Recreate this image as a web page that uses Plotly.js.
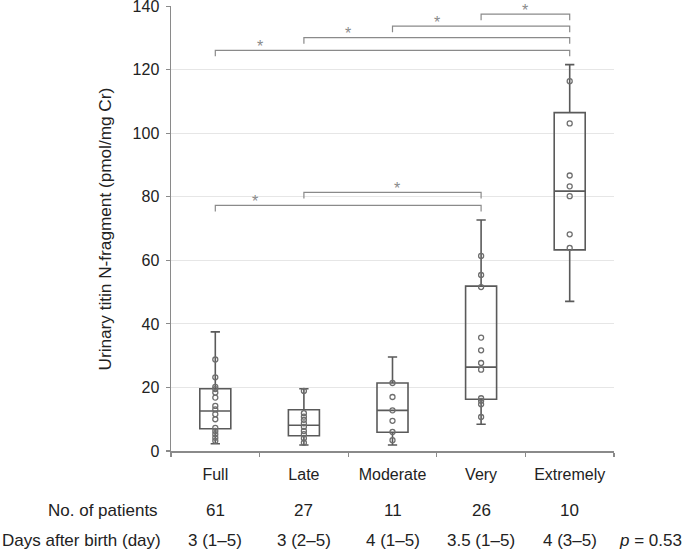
<!DOCTYPE html>
<html>
<head>
<meta charset="utf-8">
<script src="https://cdn.plot.ly/plotly-3.0.1.min.js"></script>
<style>html,body{margin:0;padding:0;background:#fff;}#chart{width:685px;height:550px;}</style>
</head>
<body>
<div id="chart"></div>
<script>
// ---- data ----
const categories = ['Full', 'Late', 'Moderate', 'Very', 'Extremely'];
const q1Values = [7.0, 4.8, 5.9, 16.3, 63.3];
const medianValues = [12.6, 8.1, 12.8, 26.4, 81.8];
const q3Values = [19.6, 13.0, 21.4, 51.9, 106.5];
const lowerWhisker = [2.3, 1.9, 1.9, 8.4, 47.1];
const upperWhisker = [37.5, 19.6, 29.6, 72.7, 121.6];

const pointsFull = [28.8, 23.2, 20.2, 19.5, 18.4, 16.8, 14.2, 13.1, 11.6, 10.0, 7.3, 6.3, 5.3, 4.2, 3.2];
const pointsLate = [18.9, 11.9, 10.8, 9.8, 8.7, 7.6, 6.3, 5.3, 4.0, 2.6];
const pointsModerate = [21.4, 17.0, 12.8, 9.5, 6.0, 3.4];
const pointsVery = [61.4, 55.4, 51.6, 35.7, 31.7, 27.7, 25.6, 16.6, 15.8, 14.7, 10.7];
const pointsExtremely = [116.4, 103.1, 86.7, 83.3, 80.2, 68.2, 63.9];

const patientCounts = ['61', '27', '11', '26', '10'];
const daysAfterBirth = ['3 (1–5)', '3 (2–5)', '4 (1–5)', '3.5 (1–5)', '4 (3–5)'];
const pValueText = '<i>p</i> = 0.53';

const sigFrom = ['Very', 'Moderate', 'Late', 'Full', 'Late', 'Full'];
const sigTo = ['Extremely', 'Extremely', 'Extremely', 'Extremely', 'Very', 'Very'];
const sigLevel = [137.5, 133.7, 130.1, 126.1, 81.4, 77.3];
const sigStarX = [3.5, 2.5, 1.5, 0.5, 2.05, 0.45];

const yTicks = [0, 20, 40, 60, 80, 100, 120, 140];

// ---- build ----
const FONT = 'Liberation Sans, Arial, Helvetica, sans-serif';
const traces = [];

traces.push({
  type: 'box',
  x: categories,
  q1: q1Values,
  median: medianValues,
  q3: q3Values,
  lowerfence: lowerWhisker,
  upperfence: upperWhisker,
  boxpoints: false,
  whiskerwidth: 0.3,
  fillcolor: 'rgba(255,255,255,0)',
  line: {color: '#5a5a5a', width: 1.6},
  hoverinfo: 'skip',
  showlegend: false
});

const pointGroups = [pointsFull, pointsLate, pointsModerate, pointsVery, pointsExtremely];
pointGroups.forEach((vals, i) => {
  traces.push({
    type: 'scatter', mode: 'markers',
    x: vals.map(() => categories[i]), y: vals,
    marker: {symbol: 'circle-open', size: 5, color: '#6e6e6e', line: {width: 1.3, color: '#6e6e6e'}},
    showlegend: false, hoverinfo: 'skip'
  });
});

const drop = 1.9;
sigFrom.forEach((f, i) => {
  traces.push({
    type: 'scatter', mode: 'lines',
    x: [f, f, sigTo[i], sigTo[i]],
    y: [sigLevel[i] - drop, sigLevel[i], sigLevel[i], sigLevel[i] - drop],
    line: {color: '#8a8a8a', width: 1.2},
    showlegend: false, hoverinfo: 'skip', cliponaxis: false
  });
});

const annotations = [];
sigStarX.forEach((sx, i) => {
  annotations.push({
    x: sx, y: sigLevel[i], xref: 'x', yref: 'y', text: '*', showarrow: false,
    xanchor: 'center', yanchor: 'middle', yshift: 4,
    font: {family: FONT, size: 16, color: '#8a8a8a'}
  });
});

const plotBottom = 450.7, plotHeight = 444.7;
const rowY = (py) => (plotBottom - py) / plotHeight;

annotations.push({
  xref: 'paper', yref: 'paper', x: -0.149, y: 0.5, textangle: -90,
  text: 'Urinary titin N-fragment (pmol/mg Cr)', showarrow: false,
  xanchor: 'center', yanchor: 'middle', font: {family: FONT, size: 17.2, color: '#222'}
});

const TF = {family: FONT, size: 17, color: '#222'};
annotations.push({xref: 'paper', yref: 'paper', x: (160 - 171) / 443, y: rowY(510),
  text: 'No. of patients', showarrow: false, xanchor: 'right', yanchor: 'middle', font: TF});
annotations.push({xref: 'paper', yref: 'paper', x: (0 - 171) / 443, y: rowY(540),
  text: 'Days after birth (day)', showarrow: false, xanchor: 'left', yanchor: 'middle', font: TF});
categories.forEach((c, i) => {
  annotations.push({xref: 'x', yref: 'paper', x: c, y: rowY(510), text: patientCounts[i],
    showarrow: false, xanchor: 'center', yanchor: 'middle', font: TF});
  annotations.push({xref: 'x', yref: 'paper', x: c, y: rowY(540), text: daysAfterBirth[i],
    showarrow: false, xanchor: 'center', yanchor: 'middle', font: TF});
});
annotations.push({xref: 'paper', yref: 'paper', x: (684 - 171) / 443, y: rowY(540),
  text: pValueText, showarrow: false, xanchor: 'right', yanchor: 'middle', font: TF});

const layout = {
  width: 685, height: 550,
  margin: {l: 171, r: 71, t: 6, b: 99, pad: 0},
  paper_bgcolor: '#fff', plot_bgcolor: '#fff',
  showlegend: false,
  boxgap: 0.5,
  font: {family: FONT, size: 16, color: '#222'},
  xaxis: {
    type: 'category', categoryorder: 'array', categoryarray: categories,
    range: [-0.5, 4.5],
    showline: true, linecolor: '#8a8a8a', linewidth: 1.5,
    ticks: 'outside', ticklen: 4, tickcolor: '#8a8a8a', tickwidth: 1.2,
    tickson: 'boundaries', ticklabelstandoff: 8,
    showgrid: false, zeroline: false,
    tickfont: {family: FONT, size: 16, color: '#222'}
  },
  yaxis: {
    range: [0, 140.05], tickvals: yTicks, ticktext: yTicks.map(String),
    showline: true, linecolor: '#8a8a8a', linewidth: 1.5,
    ticks: 'outside', ticklen: 4, tickcolor: '#8a8a8a', tickwidth: 1.2,
    ticklabelstandoff: 3, ticklabeloverflow: 'allow',
    showgrid: true, gridcolor: '#e6e6e6', gridwidth: 1,
    zeroline: false,
    tickfont: {family: FONT, size: 16, color: '#222'}
  },
  annotations: annotations
};

Plotly.newPlot('chart', traces, layout, {displayModeBar: false, staticPlot: true});
</script>
</body>
</html>
